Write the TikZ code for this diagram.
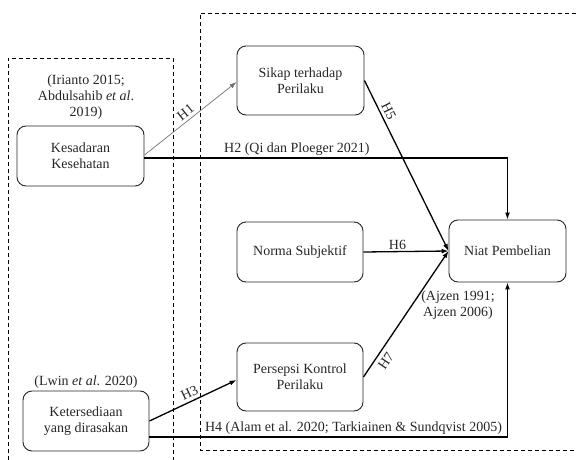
\documentclass[tikz,border=0pt]{standalone}
\usepackage{fontspec}
\setmainfont{Liberation Serif}
\usetikzlibrary{arrows.meta}
\begin{document}
\begin{tikzpicture}[x=1pt,y=-1pt,
  every node/.style={font=\fontsize{14}{15.8}\selectfont, text=black!85},
  box/.style={draw=black!85, line width=0.9pt, rounded corners=9pt, align=center, inner sep=0pt},
  dbox/.style={draw=black, line width=0.8pt, dash pattern=on 4pt off 3pt},
  arr/.style={draw=black, line width=1.3pt, -{Latex[length=7pt,width=5pt]}},
  thin arr/.style={draw=black!55, line width=0.7pt, -{Latex[length=7pt,width=5pt]}},
  lbl/.style={inner sep=1.5pt},
  slbl/.style={inner sep=3pt, sloped}
]
\useasboundingbox (0,0) rectangle (576,460);
% dashed groups
\draw[dbox] (8,460) -- (8,58) -- (173,58) -- (173,460);
\draw[dbox] (576,13) -- (200,13) -- (200,450) -- (576,450);
% nodes
\node[box, minimum width=127pt, minimum height=60pt] (kes) at (80.5,156) {Kesadaran\\Kesehatan};
\node[box, minimum width=126pt, minimum height=60pt] (ket) at (86,421) {Ketersediaan\\yang dirasakan};
\node[box, minimum width=127pt, minimum height=69pt] (sik) at (300.5,80.5) {Sikap terhadap\\Perilaku};
\node[box, minimum width=126pt, minimum height=60pt] (nor) at (300,252) {Norma Subjektif};
\node[box, minimum width=126pt, minimum height=68pt] (per) at (300,377) {Persepsi Kontrol\\Perilaku};
\node[box, minimum width=117pt, minimum height=62pt] (nia) at (507.5,251) {Niat Pembelian};
% reference labels
\node[align=center] (refa) at (86,97) {(Irianto 2015;\\Abdulsahib \textit{et al}.\\2019)};
\node (refb) at (86,382) {(Lwin \textit{et al}. 2020)};
\node[align=center] (refc) at (458,305.5) {(Ajzen 1991;\\Ajzen 2006)};
% connectors
\coordinate (k1) at ([yshift=1pt]kes.east);
\coordinate (k2) at ([yshift=-2pt]kes.east);
\draw[thin arr] (k1) -- node[slbl, above, pos=0.5] {H1} ([yshift=-1.5pt]sik.west);
\draw[arr] (k2) -- node[lbl, pos=0.42, above] {H2 (Qi dan Ploeger 2021)} (k2 -| nia.north) -- (nia.north);
\draw[arr] (sik.east) -- node[slbl, above, pos=0.2] {H5} (nia.west);
\draw[arr] (nor.east) -- node[lbl, above, pos=0.4] {H6} (nia.west);
\draw[arr] (per.east) -- node[slbl, below, pos=0.17, inner sep=4.5pt] {H7} (nia.west);
\draw[arr] (ket.east) -- node[slbl, above, pos=0.5] {H3} ([yshift=-3pt]per.west);
\coordinate (t1) at ([yshift=-16pt]ket.east);
\draw[arr] (t1) -- node[lbl, pos=0.57, above] {H4 (Alam et al. 2020; Tarkiainen \& Sundqvist 2005)} (t1 -| nia.south) -- (nia.south);
\end{tikzpicture}
\end{document}
